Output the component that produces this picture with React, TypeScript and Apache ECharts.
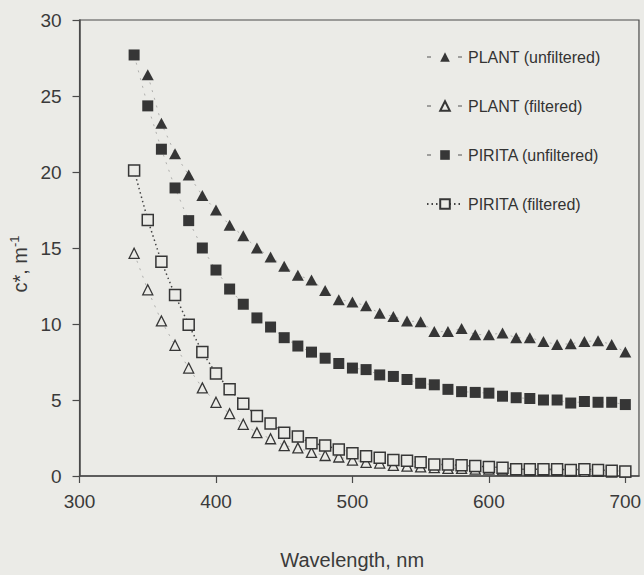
import React, { useEffect, useRef } from 'react';
import * as echarts from 'echarts';

const wavelengths = [340, 350, 360, 370, 380, 390, 400, 410, 420, 430, 440, 450, 460, 470, 480, 490, 500, 510, 520, 530, 540, 550, 560, 570, 580, 590, 600, 610, 620, 630, 640, 650, 660, 670, 680, 690, 700];

const plantUnfiltered = [null, 26.4, 23.2, 21.2, 19.8, 18.45, 17.5, 16.5, 15.8, 15.0, 14.4, 13.8, 13.2, 12.9, 12.2, 11.6, 11.45, 11.2, 10.7, 10.5, 10.2, 10.15, 9.5, 9.5, 9.7, 9.3, 9.3, 9.4, 9.1, 9.1, 8.85, 8.65, 8.7, 8.85, 8.9, 8.65, 8.15];
const plantFiltered = [14.65, 12.25, 10.2, 8.6, 7.1, 5.8, 4.85, 4.1, 3.4, 2.85, 2.45, 2.0, 1.85, 1.55, 1.35, 1.25, 1.05, 0.9, 0.85, 0.7, 0.65, 0.6, 0.55, 0.5, 0.5, 0.45, 0.45, 0.4, 0.4, 0.35, 0.35, 0.35, 0.3, 0.3, 0.3, 0.25, 0.25];
const piritaUnfiltered = [27.7, 24.35, 21.5, 18.95, 16.8, 15.0, 13.55, 12.3, 11.3, 10.4, 9.8, 9.1, 8.55, 8.15, 7.75, 7.4, 7.1, 7.0, 6.65, 6.55, 6.35, 6.1, 6.0, 5.7, 5.55, 5.5, 5.45, 5.25, 5.15, 5.1, 5.0, 5.0, 4.8, 4.9, 4.85, 4.85, 4.7];
const piritaFiltered = [20.1, 16.85, 14.1, 11.9, 9.95, 8.15, 6.75, 5.7, 4.75, 3.95, 3.45, 2.85, 2.6, 2.15, 2.0, 1.75, 1.5, 1.3, 1.2, 1.05, 1.0, 0.9, 0.75, 0.75, 0.7, 0.65, 0.6, 0.55, 0.45, 0.45, 0.45, 0.45, 0.4, 0.45, 0.4, 0.35, 0.3];

const seriesNames = ['PLANT (unfiltered)', 'PLANT (filtered)', 'PIRITA (unfiltered)', 'PIRITA (filtered)'];
const xTickValues = [300, 400, 500, 600, 700];
const yTickValues = [0, 5, 10, 15, 20, 25, 30];

const BG = '#ebebe7';
const INK = '#363636';
const FONT = '"Liberation Sans", Arial, sans-serif';

function pairs(vals: (number | null)[]) {
  return wavelengths.map((w, i) => [w, vals[i]]).filter((p) => p[1] !== null);
}

export default function App() {
  const ref = useRef<HTMLDivElement>(null);
  useEffect(() => {
    document.body.style.margin = '0';
    const chart = echarts.init(ref.current!, null, { renderer: 'svg' });
    const faintLine = { type: [2, 6], width: 1, color: '#666', opacity: 0.45 };
    const legendDash = { type: [4, 27], width: 1.2, color: '#555', opacity: 1 };
    chart.setOption({
      animation: false,
      backgroundColor: BG,
      textStyle: { fontFamily: FONT },
      grid: { left: 72, top: 20, right: 5, bottom: 97, show: true, borderColor: '#4a4a4a', borderWidth: 1.2, containLabel: false },
      legend: {
        orient: 'vertical',
        left: 421,
        top: 44,
        itemWidth: 36,
        itemHeight: 12,
        itemGap: 33,
        textStyle: { fontSize: 16, color: '#333', fontFamily: FONT },
        data: [
          { name: seriesNames[0], lineStyle: legendDash },
          { name: seriesNames[1], lineStyle: legendDash },
          { name: seriesNames[2], lineStyle: legendDash },
          { name: seriesNames[3] },
        ],
      },
      xAxis: {
        type: 'value',
        min: 300,
        max: 710,
        interval: 100,
        name: 'Wavelength, nm',
        nameLocation: 'middle',
        nameGap: 74,
        nameTextStyle: { fontSize: 20, color: '#3a3a3a', padding: [0, 14, 0, 0] },
        axisLine: { lineStyle: { color: '#4a4a4a', width: 1.5 } },
        axisTick: { show: true, length: 7, inside: false, customValues: xTickValues, lineStyle: { color: '#4a4a4a', width: 1.2 } },
        axisLabel: { fontSize: 19, color: '#3a3a3a', margin: 16, customValues: xTickValues },
        splitLine: { show: false },
      },
      yAxis: {
        type: 'value',
        min: 0,
        max: 30,
        interval: 5,
        name: '{a|c*, m}{s|-1}',
        nameLocation: 'middle',
        nameGap: 36,
        nameRotate: 90,
        nameTextStyle: {
          padding: [0, 32, 0, 0],
          rich: {
            a: { fontSize: 20, color: '#3a3a3a', fontFamily: FONT },
            s: { fontSize: 13, color: '#3a3a3a', fontFamily: FONT, verticalAlign: 'top', padding: [0, 0, 10, 0] },
          },
        },
        axisLine: { lineStyle: { color: '#4a4a4a', width: 1.5 } },
        axisTick: { show: true, length: 7, inside: false, customValues: yTickValues, lineStyle: { color: '#4a4a4a', width: 1.2 } },
        axisLabel: { fontSize: 19, color: '#3a3a3a', margin: 18, customValues: yTickValues },
        splitLine: { show: false },
      },
      series: [
        {
          name: seriesNames[0],
          type: 'line',
          data: pairs(plantUnfiltered),
          symbol: 'triangle',
          symbolSize: [12, 11],
          itemStyle: { color: INK },
          lineStyle: faintLine,
          z: 3,
        },
        {
          name: seriesNames[1],
          type: 'line',
          data: pairs(plantFiltered),
          symbol: 'triangle',
          symbolSize: [10, 10],
          itemStyle: { color: BG, borderColor: INK, borderWidth: 1.3 },
          lineStyle: faintLine,
          z: 2,
        },
        {
          name: seriesNames[2],
          type: 'line',
          data: pairs(piritaUnfiltered),
          symbol: 'rect',
          symbolSize: 11,
          itemStyle: { color: INK },
          lineStyle: faintLine,
          z: 3,
        },
        {
          name: seriesNames[3],
          type: 'line',
          data: pairs(piritaFiltered),
          symbol: 'rect',
          symbolSize: 11,
          itemStyle: { color: BG, borderColor: INK, borderWidth: 1.5 },
          lineStyle: { type: [1.5, 3], width: 1.5, color: '#444' },
          z: 4,
        },
      ],
    });
    return () => chart.dispose();
  }, []);
  return <div ref={ref} style={{ width: 644, height: 575 }} />;
}
